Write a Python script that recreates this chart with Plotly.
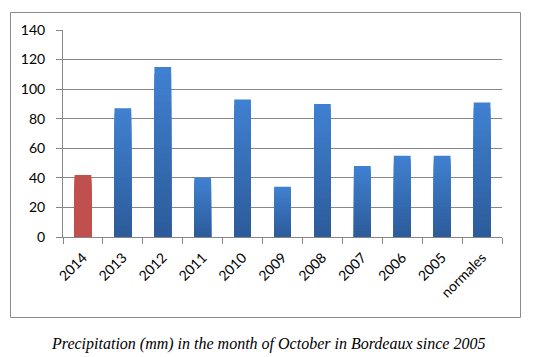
import plotly.graph_objects as go

categories = ["2014", "2013", "2012", "2011", "2010", "2009", "2008", "2007", "2006", "2005", "normales"]
values = [42, 87, 115, 40, 93, 34, 90, 48, 55, 55, 91]
highlight = "2014"
caption = "Precipitation (mm) in the month of October in Bordeaux since 2005"
y_ticks = [0, 20, 40, 60, 80, 100, 120, 140]

W, H = 536, 357
ML, MR, MT, MB = 63, 34, 30, 120
PW, PH = W - ML - MR, H - MT - MB

def px_x(x):
    return (x - ML) / PW

def px_y(y):
    return (H - MB - y) / PH

top_rgb = (64, 128, 208)
bot_rgb = (44, 90, 152)
red = "#c0504d"
N = 24

fig = go.Figure()
for k in range(N):
    frac = (N - k) / N
    t = frac
    r = [round(bot_rgb[i] + (top_rgb[i] - bot_rgb[i]) * t) for i in range(3)]
    blue = "rgb(%d,%d,%d)" % tuple(r)
    colors = [red if c == highlight else blue for c in categories]
    fig.add_trace(go.Bar(
        x=categories,
        y=[v * frac for v in values],
        marker=dict(color=colors, line=dict(width=0)),
        width=0.42,
        showlegend=False,
        hoverinfo="skip",
    ))

fig.update_layout(
    width=W, height=H,
    margin=dict(l=ML, r=MR, t=MT, b=MB),
    barmode="overlay",
    plot_bgcolor="white",
    paper_bgcolor="white",
    font=dict(family="Lato", size=14, color="#000000"),
    xaxis=dict(
        type="category",
        tickangle=-45,
        showline=True, linecolor="#868686", linewidth=1,
        ticks="outside", ticklen=6, tickcolor="#868686",
        tickson="boundaries",
        showgrid=False,
        ticklabelstandoff=6,
        tickfont=dict(family="Lato", size=14, color="#000000"),
        range=[-0.5, len(categories) - 0.5],
    ),
    yaxis=dict(
        range=[0, 140],
        tickvals=y_ticks,
        showline=True, linecolor="#868686", linewidth=1,
        ticks="outside", ticklen=6, tickcolor="#868686",
        showgrid=True, gridcolor="#868686", gridwidth=1,
        zeroline=False,
        ticklabelstandoff=8,
        tickfont=dict(family="Lato", size=14, color="#000000"),
    ),
    shapes=[dict(
        type="rect", xref="paper", yref="paper",
        x0=px_x(10.5), x1=px_x(520.5), y0=px_y(317.5), y1=px_y(12.5),
        line=dict(color="#8c8c8c", width=1),
        fillcolor="rgba(0,0,0,0)", layer="below",
    )],
    annotations=[dict(
        text="<i>" + caption + "</i>",
        xref="paper", yref="paper",
        x=px_x(268), y=px_y(344),
        xanchor="center", yanchor="middle",
        showarrow=False,
        font=dict(family="Liberation Serif", size=16, color="#000000"),
    )],
)

fig.write_html(
    "out.html",
    config={"displayModeBar": False, "staticPlot": True},
    post_script="document.body.style.margin='0';document.body.style.overflow='hidden';",
)
